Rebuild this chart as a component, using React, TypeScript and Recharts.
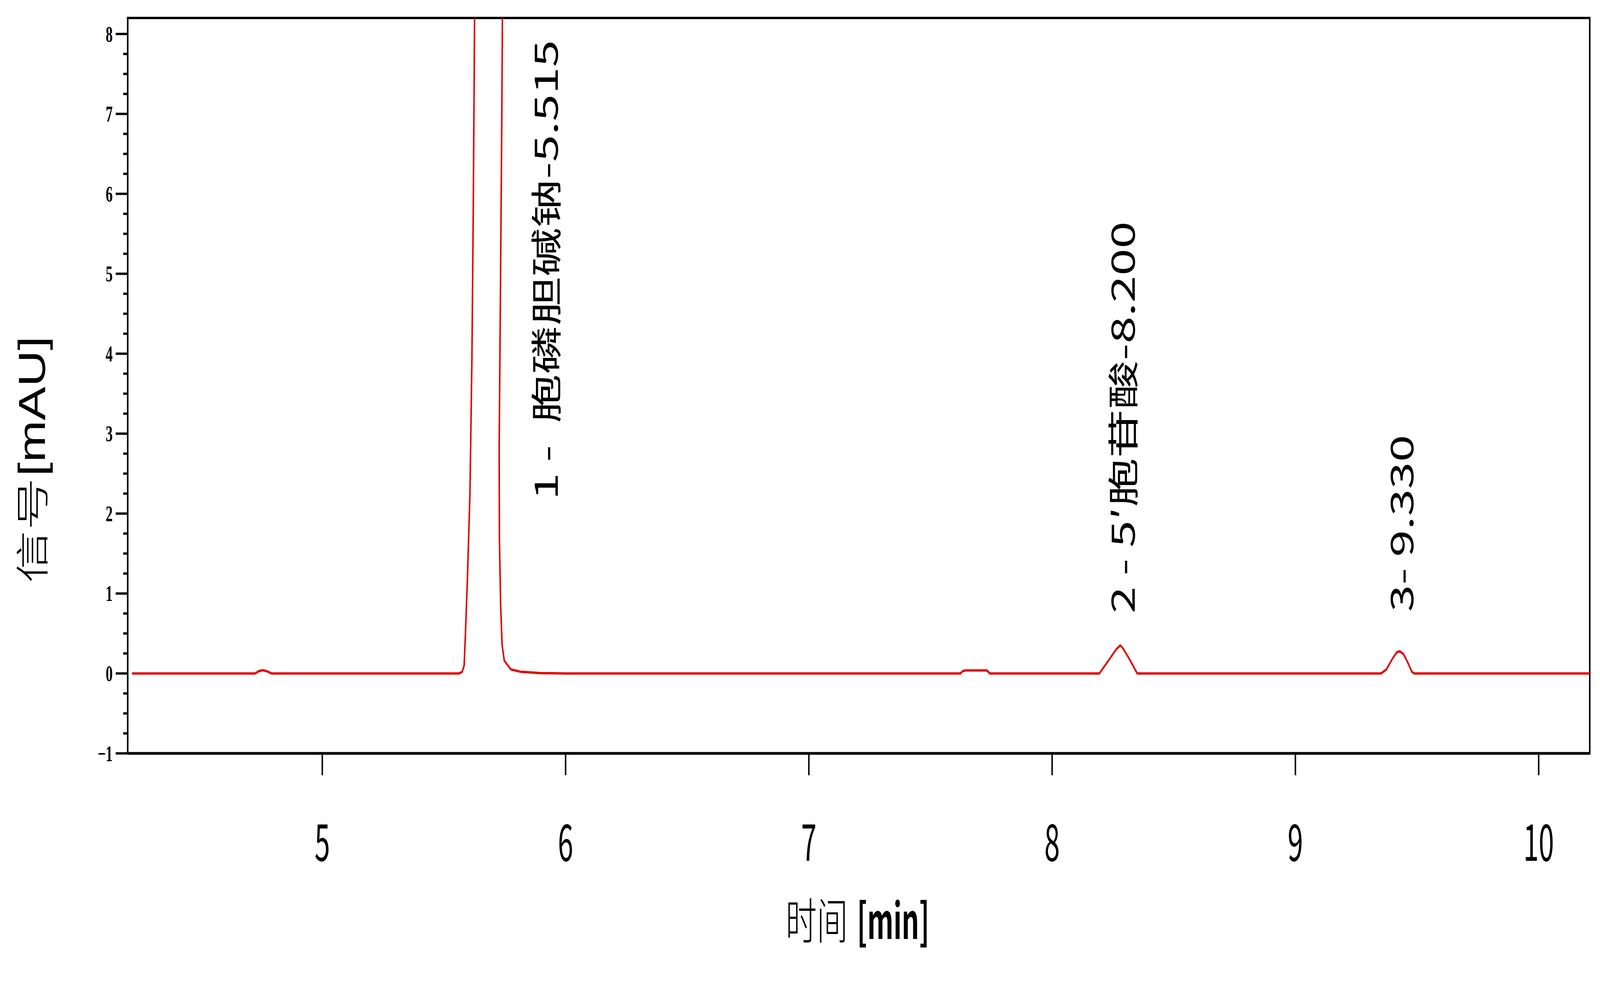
import React from 'react';
import { LineChart, Line, XAxis, YAxis, ReferenceArea, ReferenceDot } from 'recharts';

// ---- data ----
const TIME = [
  4.218, 4.7, 4.724, 4.74, 4.756, 4.775, 4.791, 5.0,
  5.562, 5.575, 5.583, 5.588, 5.596, 5.607, 5.615, 5.62, 5.624, 5.626, 5.64, 5.684,
  5.742, 5.738, 5.733, 5.727, 5.728, 5.733, 5.739, 5.748, 5.775, 5.817, 5.895, 6.0,
  7.623, 7.633, 7.643, 7.732, 7.744,
  8.194, 8.236, 8.263, 8.28, 8.29, 8.314, 8.35,
  9.352, 9.374, 9.4, 9.417, 9.429, 9.445, 9.466, 9.479, 9.489,
  10.21,
];
const SIGNAL = [
  0, 0, 0, 0.03, 0.04, 0.025, 0, 0,
  0, 0.02, 0.1, 0.47, 1.14, 2.26, 3.94, 5.62, 7.3, 8.3, 20, 45,
  9.0, 7.02, 5.06, 2.82, 1.7, 0.86, 0.36, 0.16, 0.05, 0.02, 0.005, 0,
  0, 0.03, 0.037, 0.037, 0,
  0, 0.18, 0.3, 0.35, 0.32, 0.2, 0,
  0, 0.05, 0.19, 0.265, 0.277, 0.24, 0.11, 0.02, 0,
  0,
];

const X_DOMAIN = [4.2, 10.21];
const Y_DOMAIN = [-1, 8.2];
const X_TICKS = [5, 6, 7, 8, 9, 10];
const Y_MAJOR = [-1, 0, 1, 2, 3, 4, 5, 6, 7, 8];
const Y_TICKS = [
  -1, -0.75, -0.5, -0.25, 0, 0.25, 0.5, 0.75, 1, 1.25, 1.5, 1.75, 2, 2.25, 2.5, 2.75,
  3, 3.25, 3.5, 3.75, 4, 4.25, 4.5, 4.75, 5, 5.25, 5.5, 5.75, 6, 6.25, 6.5, 6.75,
  7, 7.25, 7.5, 7.75, 8,
];

const PEAK_LABELS = ['1 - \u00A0胞磷胆碱钠-5.515', '2 - 5′胞苷酸-8.200', '3- 9.330'];
const PEAK_LABEL_T = [5.911, 8.284, 9.428];
const PEAK_LABEL_V = [2.17, 0.75, 0.77];

const X_TITLE_CJK = '时间';
const X_TITLE_UNIT = '[min]';
const Y_TITLE_CJK = '信号';
const Y_TITLE_UNIT = '[mAU]';

const data = TIME.map((t, i) => ({ t, v: SIGNAL[i] }));

// ---- layout / style ----
const W = 6403;
const H = 2531;
const Y_TICK_LEN = 48;
const Y_MINOR_LEN = 18;
const Y_TICK_GAP = 12;
const X_TICK_LEN = 56;
const CJK = "'Noto Sans CJK SC', 'Noto Sans', sans-serif";

const fmtY = (v: number) => (v < 0 ? '\u2212' + Math.abs(v) : String(v));

function YTick(props: any) {
  const { x, y, payload } = props;
  const v = payload.value;
  const major = Y_MAJOR.includes(v);
  const axisX = x + Y_TICK_LEN + Y_TICK_GAP;
  return (
    <g>
      <line
        x1={axisX - (major ? Y_TICK_LEN : Y_MINOR_LEN)}
        x2={axisX}
        y1={y}
        y2={y}
        stroke="#000"
        strokeWidth={6}
      />
      {major && (
        <text
          x={x}
          y={y}
          dy="0.35em"
          textAnchor="end"
          fontFamily="'Liberation Serif', serif"
          fontWeight="bold"
          fontSize={56}
          fill="#000"
        >
          {fmtY(v)}
        </text>
      )}
    </g>
  );
}

function XTick(props: any) {
  const { x, y, payload } = props;
  return (
    <text
      transform={`translate(${x},${y + 219}) scale(0.85,1)`}
      textAnchor="middle"
      fontFamily={CJK}
      fontSize={130}
      fill="#000"
    >
      {payload.value}
    </text>
  );
}

function YTitle(props: any) {
  const vb = props.viewBox || { x: 0, y: 46, width: 511, height: 1882 };
  const bx = vb.x + 180;
  const by = vb.y + 1446;
  return (
    <g transform={`translate(${bx},${by}) rotate(-90)`}>
      <text x={0} y={0} fontFamily={CJK} fontWeight={300} fontSize={135} fill="#000">
        {Y_TITLE_CJK}
      </text>
      <text
        transform="translate(273,0) scale(0.86,1)"
        fontFamily="'Liberation Sans', Arial, sans-serif"
        fontSize={150}
        fill="#000"
      >
        {Y_TITLE_UNIT}
      </text>
    </g>
  );
}

function XTitle(props: any) {
  const vb = props.viewBox || { x: 511, y: 1928, width: 5851, height: 603 };
  const sx = vb.x + vb.width / 2 - 293;
  const sy = vb.y + 475;
  return (
    <g transform={`translate(${sx},${sy})`}>
      <text x={0} y={0} fontFamily={CJK} fontWeight={300} fontSize={125} fill="#000">
        {X_TITLE_CJK}
      </text>
      <text
        transform="translate(286,0) scale(0.87,1)"
        fontFamily={CJK}
        fontWeight={700}
        fontSize={125}
        fill="#000"
      >
        {X_TITLE_UNIT}
      </text>
    </g>
  );
}

function PeakLabel(props: any) {
  const { cx, cy, text } = props;
  if (cx == null || cy == null) return null;
  return (
    <text
      x={cx}
      y={cy}
      transform={`rotate(-90 ${cx} ${cy})`}
      dominantBaseline="central"
      fontFamily={CJK}
      fontSize={125}
      fill="#000"
    >
      {text}
    </text>
  );
}

export default function App() {
  // the browser viewport is narrower than the reference; fit the full-size chart into it horizontally
  const vw = typeof window !== 'undefined' && window.innerWidth ? window.innerWidth : W;
  const sx = Math.min(1, vw / W);
  return (
    <div
      style={{
        position: 'absolute',
        left: 0,
        top: 0,
        width: W,
        height: H,
        background: '#fff',
        transform: `scaleX(${sx})`,
        transformOrigin: '0 0',
      }}
    >
      <LineChart width={W} height={H} data={data} margin={{ top: 46, right: 41, left: 0, bottom: 0 }}>
        <XAxis
          dataKey="t"
          type="number"
          domain={X_DOMAIN}
          allowDataOverflow
          ticks={X_TICKS}
          interval={0}
          height={603}
          tickSize={X_TICK_LEN}
          tickMargin={0}
          tickLine={{ stroke: '#000', strokeWidth: 6 }}
          axisLine={{ stroke: '#000', strokeWidth: 7 }}
          tick={<XTick />}
          label={(p: any) => <XTitle {...p} />}
        />
        <YAxis
          type="number"
          domain={Y_DOMAIN}
          allowDataOverflow
          ticks={Y_TICKS}
          interval={0}
          width={511}
          tickSize={Y_TICK_LEN}
          tickMargin={Y_TICK_GAP}
          tickLine={false}
          axisLine={{ stroke: '#000', strokeWidth: 6 }}
          tick={<YTick />}
          label={(p: any) => <YTitle {...p} />}
        />
        <ReferenceArea
          x1={X_DOMAIN[0]}
          x2={X_DOMAIN[1]}
          y1={Y_DOMAIN[0]}
          y2={Y_DOMAIN[1]}
          fill="none"
          stroke="#000"
          strokeWidth={6}
        />
        <Line
          type="linear"
          dataKey="v"
          stroke="#e00000"
          strokeWidth={6}
          dot={false}
          activeDot={false}
          isAnimationActive={false}
        />
        {PEAK_LABELS.map((txt, i) => (
          <ReferenceDot
            key={txt}
            x={PEAK_LABEL_T[i]}
            y={PEAK_LABEL_V[i]}
            r={0}
            shape={(p: any) => <PeakLabel cx={p.cx} cy={p.cy} text={txt} />}
          />
        ))}
      </LineChart>
    </div>
  );
}
